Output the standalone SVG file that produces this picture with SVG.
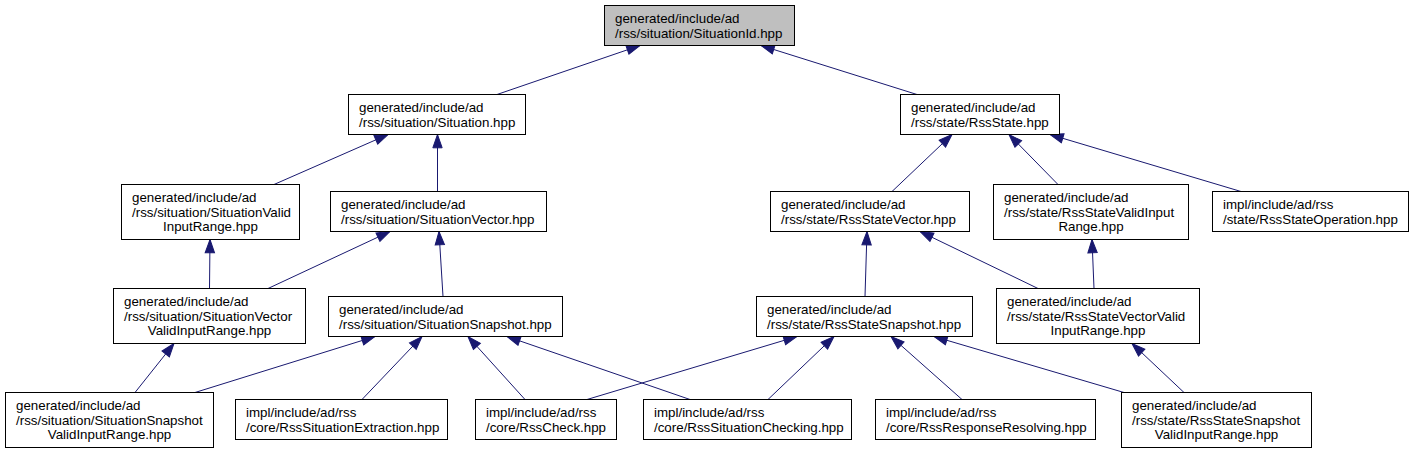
<svg xmlns="http://www.w3.org/2000/svg" width="1413" height="453" viewBox="0 0 1413 453">
<style>
.n rect{fill:#ffffff;stroke:#000000;stroke-width:1}
.n.root rect{fill:#bfbfbf}
.n text{font-family:"Liberation Sans",Arial,Helvetica,sans-serif;font-size:13.33px;fill:#000000}
.n text.c{text-anchor:middle}
.e path{fill:none;stroke:#191970;stroke-width:1;marker-end:url(#ah)}
</style>
<defs>
<marker id="ah" markerUnits="userSpaceOnUse" viewBox="-1 -1 15.3 11.33" markerWidth="15.3" markerHeight="11.33" refX="13.3" refY="4.67" orient="auto" overflow="visible">
<path d="M0,0 L13.3,4.67 L0,9.33 z" fill="#191970" stroke="#191970" stroke-width="1"/>
</marker>
</defs>
<rect x="0" y="0" width="1413" height="453" fill="#ffffff"/>
<g id="edges" class="e">
<path d="M497,94.5 L640,45.5"/>
<path d="M917,94.5 L761,45.5"/>
<path d="M274,184.5 L388,134.5"/>
<path d="M437.5,191.5 L437.5,134.5"/>
<path d="M209.5,288.5 L210,239.5"/>
<path d="M268,288.5 L390,231.5"/>
<path d="M443,296.5 L439,231.5"/>
<path d="M892,191.5 L952,134.5"/>
<path d="M1058,184.5 L1009,134.5"/>
<path d="M1241,191.5 L1050,134.5"/>
<path d="M865,296.5 L867,231.5"/>
<path d="M1038,288.5 L920,231.5"/>
<path d="M1094,288.5 L1092,239.5"/>
<path d="M135,392.5 L174,343.5"/>
<path d="M195,392.5 L375,336.5"/>
<path d="M362,399.5 L422,336.5"/>
<path d="M525,399.5 L468,336.5"/>
<path d="M690,399.5 L507,336.5"/>
<path d="M587,399.5 L797,336.5"/>
<path d="M768,399.5 L834,336.5"/>
<path d="M962,399.5 L891,336.5"/>
<path d="M1124,392.5 L934,336.5"/>
<path d="M1184,392.5 L1132,343.5"/>
</g>
<g id="node_situationid" class="n root">
<rect x="604.5" y="5.5" width="190" height="40"/>
<text x="615" y="23">generated/include/ad</text>
<text x="615" y="37.5">/rss/situation/SituationId.hpp</text>
</g>
<g id="node_situation" class="n">
<rect x="348.5" y="94.5" width="177" height="40"/>
<text x="359" y="112">generated/include/ad</text>
<text x="359" y="126.5">/rss/situation/Situation.hpp</text>
</g>
<g id="node_rssstate" class="n">
<rect x="900.5" y="94.5" width="159" height="40"/>
<text x="911" y="112">generated/include/ad</text>
<text x="911" y="126.5">/rss/state/RssState.hpp</text>
</g>
<g id="node_situationvalidinputrange" class="n">
<rect x="121.5" y="184.5" width="178" height="55"/>
<text x="132" y="202">generated/include/ad</text>
<text x="132" y="216.5">/rss/situation/SituationValid</text>
<text class="c" x="210.5" y="231">InputRange.hpp</text>
</g>
<g id="node_situationvector" class="n">
<rect x="330.5" y="191.5" width="216" height="40"/>
<text x="341" y="209">generated/include/ad</text>
<text x="341" y="223.5">/rss/situation/SituationVector.hpp</text>
</g>
<g id="node_rssstatevector" class="n">
<rect x="770.5" y="191.5" width="199" height="40"/>
<text x="781" y="209">generated/include/ad</text>
<text x="781" y="223.5">/rss/state/RssStateVector.hpp</text>
</g>
<g id="node_rssstatevalidinputrange" class="n">
<rect x="993.5" y="184.5" width="195" height="55"/>
<text x="1004" y="202">generated/include/ad</text>
<text x="1004" y="216.5">/rss/state/RssStateValidInput</text>
<text class="c" x="1091" y="231">Range.hpp</text>
</g>
<g id="node_rssstateoperation" class="n">
<rect x="1212.5" y="191.5" width="196" height="40"/>
<text x="1223" y="209">impl/include/ad/rss</text>
<text x="1223" y="223.5">/state/RssStateOperation.hpp</text>
</g>
<g id="node_situationvectorvalidinputrange" class="n">
<rect x="113.5" y="288.5" width="192" height="55"/>
<text x="124" y="306">generated/include/ad</text>
<text x="124" y="320.5">/rss/situation/SituationVector</text>
<text class="c" x="209.5" y="335">ValidInputRange.hpp</text>
</g>
<g id="node_situationsnapshot" class="n">
<rect x="328.5" y="296.5" width="234" height="40"/>
<text x="339" y="314">generated/include/ad</text>
<text x="339" y="328.5">/rss/situation/SituationSnapshot.hpp</text>
</g>
<g id="node_rssstatesnapshot" class="n">
<rect x="756.5" y="296.5" width="216" height="40"/>
<text x="767" y="314">generated/include/ad</text>
<text x="767" y="328.5">/rss/state/RssStateSnapshot.hpp</text>
</g>
<g id="node_rssstatevectorvalidinputrange" class="n">
<rect x="996.5" y="288.5" width="203" height="55"/>
<text x="1007" y="306">generated/include/ad</text>
<text x="1007" y="320.5">/rss/state/RssStateVectorValid</text>
<text class="c" x="1098" y="335">InputRange.hpp</text>
</g>
<g id="node_situationsnapshotvalidinputrange" class="n">
<rect x="5.5" y="392.5" width="208" height="55"/>
<text x="16" y="410">generated/include/ad</text>
<text x="16" y="424.5">/rss/situation/SituationSnapshot</text>
<text class="c" x="109.5" y="439">ValidInputRange.hpp</text>
</g>
<g id="node_rsssituationextraction" class="n">
<rect x="235.5" y="399.5" width="212" height="40"/>
<text x="246" y="417">impl/include/ad/rss</text>
<text x="246" y="431.5">/core/RssSituationExtraction.hpp</text>
</g>
<g id="node_rsscheck" class="n">
<rect x="475.5" y="399.5" width="141" height="40"/>
<text x="486" y="417">impl/include/ad/rss</text>
<text x="486" y="431.5">/core/RssCheck.hpp</text>
</g>
<g id="node_rsssituationchecking" class="n">
<rect x="643.5" y="399.5" width="208" height="40"/>
<text x="654" y="417">impl/include/ad/rss</text>
<text x="654" y="431.5">/core/RssSituationChecking.hpp</text>
</g>
<g id="node_rssresponseresolving" class="n">
<rect x="875.5" y="399.5" width="220" height="40"/>
<text x="886" y="417">impl/include/ad/rss</text>
<text x="886" y="431.5">/core/RssResponseResolving.hpp</text>
</g>
<g id="node_rssstatesnapshotvalidinputrange" class="n">
<rect x="1121.5" y="392.5" width="190" height="55"/>
<text x="1132" y="410">generated/include/ad</text>
<text x="1132" y="424.5">/rss/state/RssStateSnapshot</text>
<text class="c" x="1216.5" y="439">ValidInputRange.hpp</text>
</g>
</svg>
